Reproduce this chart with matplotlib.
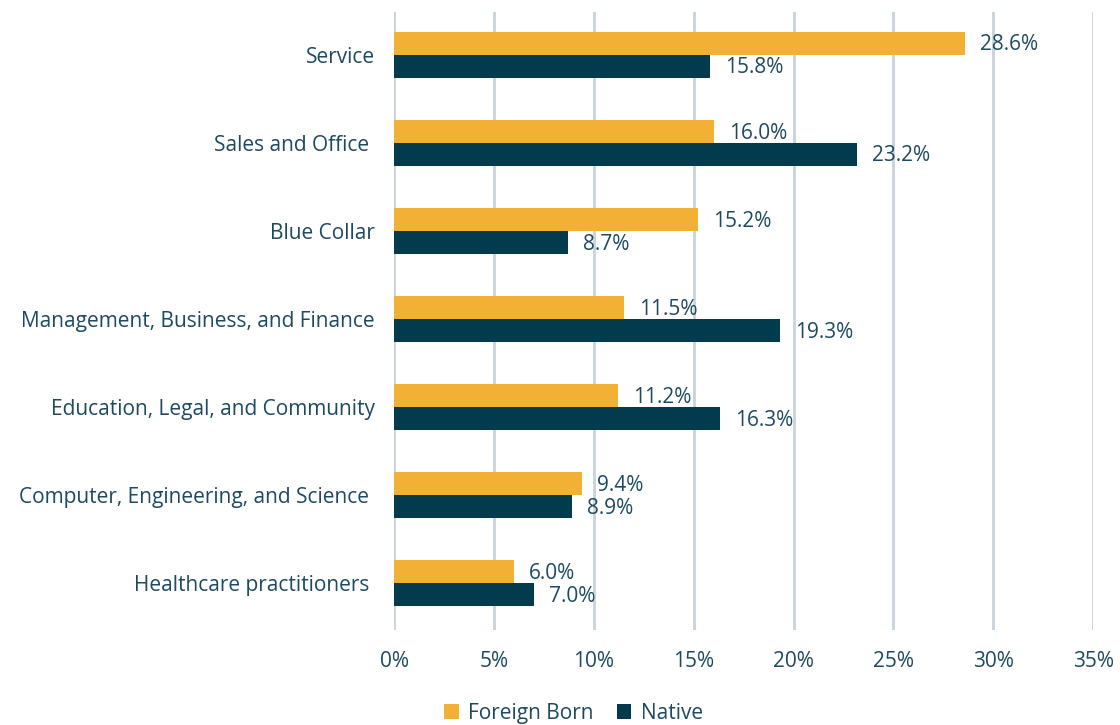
import matplotlib.pyplot as plt
import numpy as np

plt.rcParams['font.family'] = ['Open Sans', 'DejaVu Sans']

categories = ['Service', 'Sales and Office ', 'Blue Collar',
              'Management, Business, and Finance', 'Education, Legal, and Community',
              'Computer, Engineering, and Science ', 'Healthcare practitioners ']
foreign_born = [28.6, 16.0, 15.2, 11.5, 11.2, 9.4, 6.0]
native = [15.8, 23.2, 8.7, 19.3, 16.3, 8.9, 7.0]
xticks = [0, 5, 10, 15, 20, 25, 30, 35]

TEXT = '#1d4a5e'
GOLD = '#f2b134'
NAVY = '#023b4e'
GRID = '#c9d3da'
FS = 15

fig = plt.figure(figsize=(11.2, 7.25), dpi=100)
ax = fig.add_axes([0.352, 0.131, 0.624, 0.852])

y = np.arange(len(categories))
h = 0.26
ax.barh(y - h / 2, foreign_born, h, color=GOLD, label='Foreign Born', zorder=3)
ax.barh(y + h / 2, native, h, color=NAVY, label='Native', zorder=3)

# value labels just past the end of each bar
for i in range(len(categories)):
    ax.text(foreign_born[i] + 0.75, y[i] - h / 2 + 0.02, f'{foreign_born[i]:.1f}%',
            va='center', ha='left', fontsize=FS, color=TEXT)
    ax.text(native[i] + 0.75, y[i] + h / 2 + 0.02, f'{native[i]:.1f}%',
            va='center', ha='left', fontsize=FS, color=TEXT)

ax.set_xlim(0, 35)
ax.set_ylim(len(categories) - 0.47, -0.48)
ax.set_xticks(xticks)
ax.set_xticklabels([f'{t}%' for t in xticks], fontsize=FS, color=TEXT)
ax.set_yticks(y)
ax.set_yticklabels(categories, fontsize=FS, color=TEXT)
ax.tick_params(axis='y', length=0, pad=14)
ax.tick_params(axis='x', length=0, pad=15)
ax.grid(axis='x', color=GRID, linewidth=2, zorder=0)
for s in ax.spines.values():
    s.set_visible(False)

fig.legend(loc='lower center', bbox_to_anchor=(0.512, -0.024), ncol=2, frameon=False,
           fontsize=FS, labelcolor=TEXT, handlelength=0.7, handleheight=0.7,
           handletextpad=0.45, columnspacing=1.1)

fig.savefig('out.png', dpi=100)
